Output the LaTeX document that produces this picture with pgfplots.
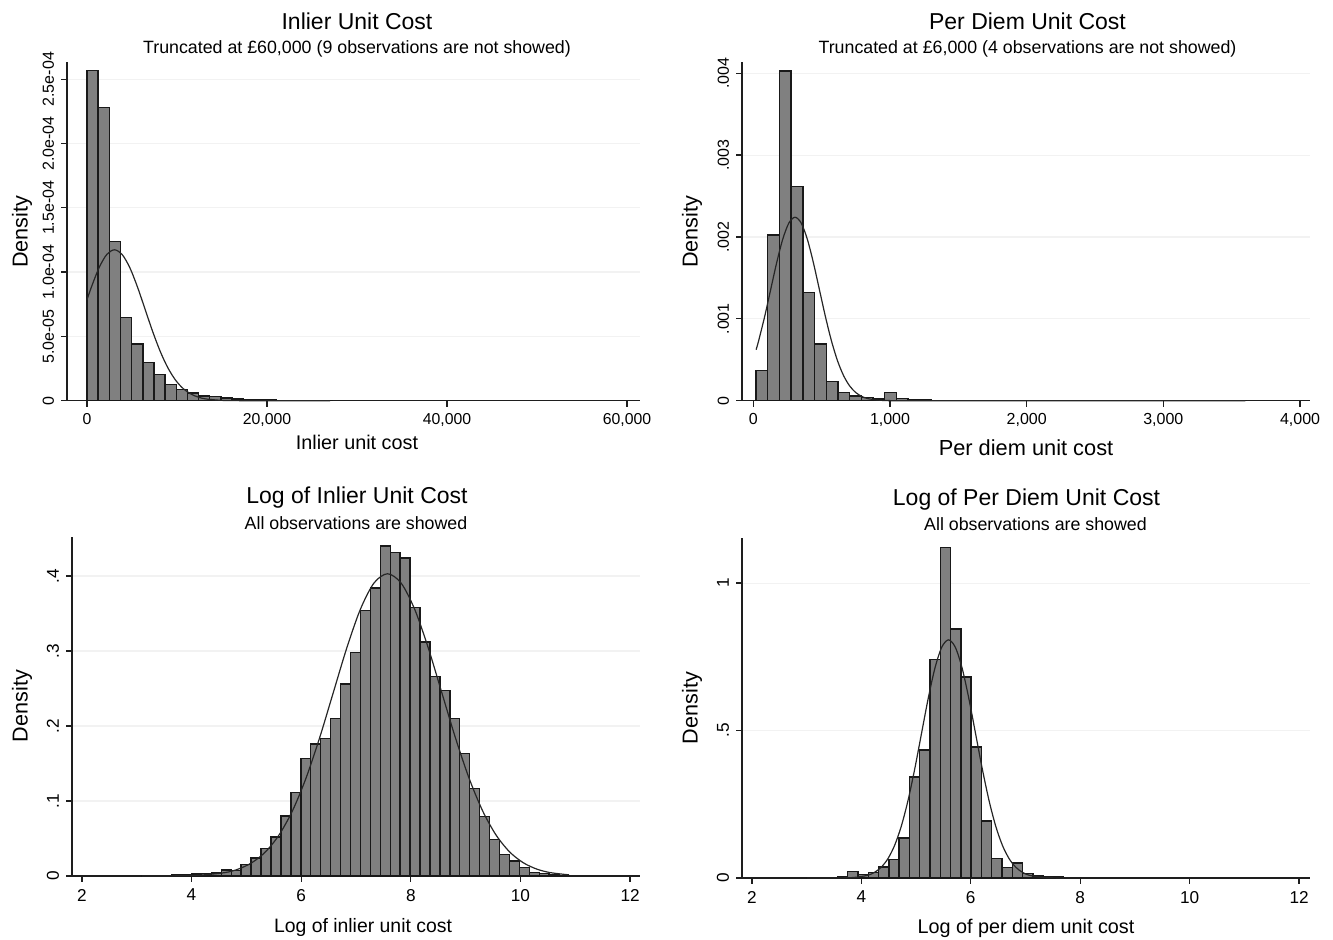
\documentclass[border=0pt]{standalone}
\usepackage{fontspec}
\setmainfont{Liberation Sans}
\usepackage{pgfplots}
\pgfplotsset{compat=1.18}
\definecolor{barfill}{RGB}{128,128,128}
\definecolor{axcol}{RGB}{30,30,30}
\newcommand\fs[1]{\fontsize{#1}{#1}\selectfont}
\pgfplotsset{
  hist/.style={
    scale only axis, anchor=south west,
    /pgf/number format/assume math mode=true,
    axis lines=left, axis line style={-, line width=0.65pt, draw=axcol},
    tick align=outside, major tick length=3pt,
    tick style={line width=0.65pt, draw=axcol},
    ymajorgrids, grid style={black!5, line width=0.6pt},
    yticklabel style={rotate=90, anchor=south, font=\fs{8}},
    xticklabel style={font=\fs{7.9}},
    scaled y ticks=false, scaled x ticks=false, ymin=0,
    clip=false,
  },
  bars/.style={ybar interval, fill=barfill, draw=black!90, line width=0.7pt},
  curve/.style={smooth, draw=black!85, line width=0.6pt, no markers},
}
\begin{document}
\begin{tikzpicture}
\useasboundingbox (0,0) rectangle (666.5pt,470pt);
% ---------------- Panel 1
\begin{axis}[hist, at={(33.5pt,269.65pt)}, width=286.5pt, height=169.35pt,
  xmin=-2222, xmax=61444, ymax=2.634e-4,
  xtick={0,20000,40000,60000}, xticklabels={0,{20,000},{40,000},{60,000}},
  ytick={0,5e-5,1e-4,1.5e-4,2e-4,2.5e-4},
  yticklabels={0,5.0e-05,1.0e-04,1.5e-04,2.0e-04,2.5e-04}]
\addplot[bars] coordinates {
(0,2.567e-4) (1240,2.280e-4) (2480,1.237e-4) (3720,6.48e-5) (4960,4.41e-5)
(6200,2.96e-5) (7440,2.02e-5) (8680,1.28e-5) (9920,8.5e-6) (11160,5.9e-6)
(12400,3.8e-6) (13640,3.1e-6) (14880,2.1e-6) (16120,1.3e-6) (17360,0.8e-6)
(18600,0.7e-6) (19840,0.5e-6) (21080,0.3e-6) (22320,0.3e-6) (23560,0.2e-6)
(24800,0.2e-6) (26040,0.1e-6) (27280,0.1e-6)};
\addplot[curve] coordinates {
(0,7.847e-5) (500,8.857e-5) (1350,1.0355e-4) (2200,1.1373e-4) (3050,1.1734e-4)
(3900,1.1373e-4) (4750,1.0355e-4) (5600,8.857e-5) (6450,7.117e-5) (7300,5.372e-5)
(8150,3.809e-5) (9000,2.538e-5) (9850,1.588e-5) (10700,9.34e-6) (11550,5.16e-6)
(12400,2.67e-6) (13250,1.30e-6) (14950,2.6e-7) (16650,3.9e-8) (20050,0) (27000,0)};
\end{axis}
% ---------------- Panel 2
\begin{axis}[hist, at={(371pt,269.65pt)}, width=284pt, height=169.35pt,
  xmin=-83, xmax=4073, ymax=0.004138,
  xtick={0,1000,2000,3000,4000}, xticklabels={0,{1,000},{2,000},{3,000},{4,000}},
  xticklabel style={font=\fs{8}},
  ytick={0,0.001,0.002,0.003,0.004}, yticklabels={0,.001,.002,.003,.004}]
\addplot[bars] coordinates {
(20,3.67e-4) (105.6,2.024e-3) (191.2,4.03e-3) (276.8,2.615e-3) (362.4,1.32e-3)
(448,6.92e-4) (533.6,2.32e-4) (619.2,9.8e-5) (704.8,5.7e-5) (790.4,3.7e-5)
(876,2.0e-5) (961.6,9.8e-5) (1047.2,2.9e-5) (1132.8,1.6e-5) (1218.4,1.0e-5)
(1304,4e-6) (1389.6,4e-6) (1475.2,0) (1560.8,0) (1646.4,0) (1732,3e-6)
(1817.6,4e-6) (1903.2,4e-6) (1988.8,0) (2074.4,0) (2160,0) (2245.6,0)
(2331.2,0) (2416.8,0) (2502.4,0) (2588,0) (2673.6,0) (2759.2,0) (2844.8,0)
(2930.4,0) (3016,0) (3101.6,0) (3187.2,0) (3272.8,0) (3358.4,0) (3444,0)
(3529.6,0) (3615.2,0)};
\addplot[curve] coordinates {
(20,6.222e-4) (38,7.276e-4) (82.5,1.0261e-3) (127,1.3594e-3) (171.5,1.6918e-3)
(216,1.9779e-3) (260.5,2.1723e-3) (305,2.2412e-3) (349.5,2.1723e-3) (394,1.9779e-3)
(438.5,1.6918e-3) (483,1.3594e-3) (527.5,1.0261e-3) (572,7.276e-4) (616.5,4.847e-4)
(661,3.033e-4) (705.5,1.783e-4) (750,9.85e-5) (794.5,5.11e-5) (839,2.49e-5)
(928,4.9e-6) (1017,7.5e-7) (1195,0) (3600,0)};
\end{axis}
% ---------------- Panel 3
\begin{axis}[hist, at={(36pt,32pt)}, width=284pt, height=169.5pt,
  xmin=1.82, xmax=12.18, ymax=0.452,
  xtick={2,4,6,8,10,12}, xticklabels={2,4,6,8,10,12},
  xticklabel style={font=\fs{8.6}},
  ytick={0,0.1,0.2,0.3,0.4}, yticklabels={0,.1,.2,.3,.4},
  yticklabel style={font=\fs{8.6}}]
\addplot[bars] coordinates {
(3.094,0.0005) (3.2752,0.0008) (3.4564,0.001) (3.6376,0.0013) (3.8188,0.002)
(4.0000,0.0027) (4.1812,0.0036) (4.3624,0.004) (4.5436,0.008) (4.7248,0.007)
(4.906,0.015) (5.0872,0.024) (5.2684,0.037) (5.4496,0.052) (5.6308,0.080)
(5.812,0.111) (5.9932,0.157) (6.1744,0.176) (6.3556,0.183) (6.5368,0.210)
(6.718,0.256) (6.8992,0.298) (7.0804,0.354) (7.2616,0.384) (7.4428,0.440)
(7.624,0.431) (7.8052,0.424) (7.9864,0.358) (8.1676,0.312) (8.3488,0.266)
(8.53,0.247) (8.7112,0.210) (8.8924,0.163) (9.0736,0.117) (9.2548,0.079)
(9.436,0.049) (9.6172,0.029) (9.7984,0.020) (9.9796,0.011) (10.1608,0.005)
(10.342,0.003) (10.5232,0.002) (10.7044,0.001) (10.8856,0.001)};
\addplot[curve] coordinates {
(3.094,1.4e-5) (3.615,1.35e-4) (4.11,8.82e-4) (4.605,4.477e-3) (4.8525,9.186e-3)
(5.1,0.017705) (5.3475,0.032061) (5.595,0.054536) (5.8425,0.087148) (6.09,0.130826)
(6.3375,0.184494) (6.585,0.244415) (6.8325,0.304179) (7.08,0.355621) (7.3275,0.390574)
(7.575,0.402972) (7.8225,0.390574) (8.07,0.355621) (8.3175,0.304179) (8.565,0.244415)
(8.8125,0.184494) (9.06,0.130826) (9.3075,0.087148) (9.555,0.054536) (9.8025,0.032061)
(10.05,0.017705) (10.2975,0.009186) (10.545,0.004477) (10.886,0.001503)};
\end{axis}
% ---------------- Panel 4
\begin{axis}[hist, at={(371pt,31pt)}, width=284pt, height=170pt,
  xmin=1.82, xmax=12.2, ymax=1.153,
  xtick={2,4,6,8,10,12}, xticklabels={2,4,6,8,10,12},
  xticklabel style={font=\fs{8.6}},
  ytick={0,0.5,1}, yticklabels={0,.5,1},
  yticklabel style={font=\fs{8.6}}]
\addplot[bars] coordinates {
(3.000,0.002) (3.188,0.002) (3.376,0.002) (3.564,0.003) (3.752,0.022)
(3.940,0.011) (4.128,0.018) (4.316,0.037) (4.504,0.063) (4.692,0.135)
(4.880,0.342) (5.068,0.434) (5.256,0.740) (5.444,1.121) (5.632,0.844)
(5.820,0.681) (6.008,0.444) (6.196,0.193) (6.384,0.067) (6.572,0.036)
(6.760,0.051) (6.948,0.016) (7.136,0.007) (7.324,0.003) (7.512,0.003) (7.700,0.003)};
\addplot[curve] coordinates {
(3.0,8.4e-7) (3.371,3.2e-5) (3.618,2.71e-4) (3.865,1.767e-3) (4.112,8.972e-3)
(4.2355,0.018409) (4.359,0.035482) (4.4825,0.064251) (4.606,0.109294) (4.7295,0.174650)
(4.853,0.262182) (4.9765,0.369735) (5.1,0.489820) (5.2235,0.609589) (5.347,0.712682)
(5.4705,0.782729) (5.594,0.807575) (5.7175,0.782729) (5.841,0.712682) (5.9645,0.609589)
(6.088,0.489820) (6.2115,0.369735) (6.335,0.262182) (6.4585,0.174650) (6.582,0.109294)
(6.7055,0.064251) (6.829,0.035482) (6.9525,0.018409) (7.076,0.008972) (7.323,0.001767)
(7.57,0.000271) (7.70,0.000091)};
\end{axis}
% ---------------- Text
\node[anchor=base] at (178.5pt,455pt) {\fs{11.5}Inlier Unit Cost};
\node[anchor=base] at (178.5pt,443.25pt) {\fs{8.9}Truncated at £60,000 (9 observations are not showed)};
\node[anchor=base] at (178.5pt,245pt) {\fs{9.9}Inlier unit cost};
\node[rotate=90] at (11pt,354pt) {\fs{10.8}Density};
\node[anchor=base] at (513.75pt,455pt) {\fs{11.5}Per Diem Unit Cost};
\node[anchor=base] at (513.75pt,443.25pt) {\fs{8.9}Truncated at £6,000 (4 observations are not showed)};
\node[anchor=base] at (513pt,242pt) {\fs{10.9}Per diem unit cost};
\node[rotate=90] at (346pt,354pt) {\fs{10.8}Density};
\node[anchor=base] at (178.5pt,218pt) {\fs{11.5}Log of Inlier Unit Cost};
\node[anchor=base] at (178pt,205pt) {\fs{8.9}All observations are showed};
\node[anchor=base] at (181.5pt,3.5pt) {\fs{9.7}Log of inlier unit cost};
\node[rotate=90] at (11pt,117pt) {\fs{10.8}Density};
\node[anchor=base] at (513.25pt,217pt) {\fs{11.5}Log of Per Diem Unit Cost};
\node[anchor=base] at (517.75pt,204.5pt) {\fs{8.9}All observations are showed};
\node[anchor=base] at (513pt,3pt) {\fs{9.9}Log of per diem unit cost};
\node[rotate=90] at (346pt,116pt) {\fs{10.8}Density};
\end{tikzpicture}
\end{document}
